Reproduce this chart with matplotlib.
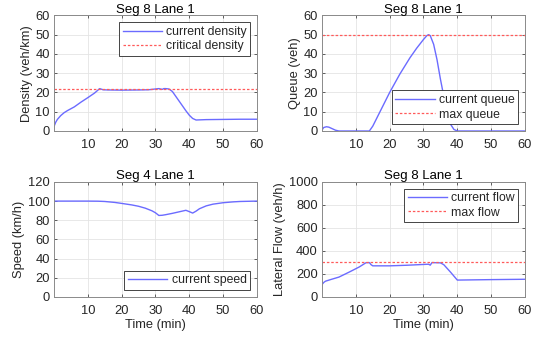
import matplotlib.pyplot as plt

plt.rcParams['font.family'] = ['Liberation Sans', 'DejaVu Sans']
plt.rcParams['font.size'] = 9.3

# values
density_t = [0, 0.5, 1, 2, 3, 4, 6, 8, 10, 12, 13.5, 14.5, 16, 20, 25, 28, 30, 31, 32, 32.5, 33, 34, 35,
             36, 37, 38, 39, 40, 41, 42, 45, 50, 55, 60]
density = [2.3, 4.5, 6.0, 8.0, 9.5, 10.6, 12.5, 15.0, 17.3, 19.7, 22.0, 21.4, 21.3, 21.2, 21.3, 21.4, 21.8,
           22.0, 21.6, 22.0, 22.0, 21.8, 20.5, 18.0, 15.5, 13.0, 10.5, 8.2, 6.5, 5.7, 5.9, 6.0, 6.1, 6.1]
critical_density = 22

queue_t = [0, 0.5, 1.3, 2, 3, 4, 5, 14, 15, 16, 18, 20, 23, 26, 28, 30, 31, 31.5, 32, 33, 34, 35, 36,
           37, 38, 39, 40, 60]
queue = [0.5, 1.8, 2.2, 2.0, 1.2, 0.4, 0, 0, 2.5, 6.0, 13.0, 20.0, 29.5, 38.0, 43.0, 47.5, 49.5, 50.0,
         49.5, 45.0, 37.0, 27.0, 18.0, 9.5, 3.5, 0.8, 0, 0]
max_queue = 50

speed_t = [0, 5, 10, 13, 15, 18, 20, 23, 25, 27, 29, 30, 31, 32, 33, 35, 37, 39, 40, 41, 42, 43, 45, 47,
           50, 53, 55, 60]
speed = [100, 100, 100, 99.9, 99.6, 98.6, 97.6, 96.0, 94.6, 92.6, 89.8, 87.8, 85.0, 85.2, 85.8, 87.2, 88.8,
         90.4, 89.0, 87.5, 89.5, 92.0, 95.0, 96.8, 98.3, 99.2, 99.6, 100]

flow_t = [0, 0.5, 1, 2.5, 5, 8, 11, 13, 14, 14.5, 15, 20, 25, 30, 31.5, 32, 32.5, 35, 36, 38, 40, 45,
          50, 60]
flow = [107, 125, 136, 150, 172, 215, 260, 297, 298, 280, 270, 270, 275, 282, 284, 276, 298, 296, 280,
        215, 146, 148, 150, 153]
max_flow = 300

line_blue = '#6b6bff'
line_red = '#ff5a5a'
txt = '#262626'


def style(ax, ylabel, yticks, title, xlabel=None):
    ax.set_xlim(0, 60)
    ax.set_xticks([10, 20, 30, 40, 50, 60])
    ax.set_ylim(yticks[0], yticks[-1])
    ax.set_yticks(yticks)
    ax.set_title(title, color='black', fontsize=9.5, pad=2)
    ax.set_ylabel(ylabel, color=txt, labelpad=2)
    if xlabel:
        ax.set_xlabel(xlabel, color=txt, labelpad=1)
    ax.grid(True, color='#e4e4e4', linewidth=0.6)
    ax.set_axisbelow(True)
    ax.tick_params(direction='in', length=2.5, width=0.5, colors=txt, labelsize=9.3, pad=3,
                   top=True, right=True, labeltop=False, labelright=False)
    ax.tick_params(axis='x', pad=6)
    for s in ax.spines.values():
        s.set_color('#8a8a8a')
        s.set_linewidth(0.7)


def legend(ax, loc):
    leg = ax.legend(loc=loc, fancybox=False, framealpha=1, edgecolor='#262626', fontsize=8.8,
                    borderpad=0.3, labelspacing=0.2, handlelength=3.2, handletextpad=0.35,
                    borderaxespad=0.55)
    leg.get_frame().set_linewidth(0.6)
    for t in leg.get_texts():
        t.set_color(txt)


fig = plt.figure(figsize=(5.47, 3.42), dpi=100)
w, h = 0.371, 0.338
ax1 = fig.add_axes([0.0987, 0.617, w, h])
ax2 = fig.add_axes([0.5887, 0.617, w, h])
ax3 = fig.add_axes([0.0987, 0.132, w, 0.336])
ax4 = fig.add_axes([0.5887, 0.132, w, 0.336])

ax1.plot(density_t, density, color=line_blue, lw=1.0, label='current density')
ax1.axhline(critical_density, color=line_red, lw=0.9, ls=(0, (2, 1.5)), label='critical density')
style(ax1, 'Density (veh/km)', [0, 10, 20, 30, 40, 50, 60], 'Seg 8 Lane 1')
legend(ax1, 'upper right')

ax2.plot(queue_t, queue, color=line_blue, lw=1.0, label='current queue')
ax2.axhline(max_queue, color=line_red, lw=0.9, ls=(0, (2, 1.5)), label='max queue')
style(ax2, 'Queue (veh)', [0, 10, 20, 30, 40, 50, 60], 'Seg 8 Lane 1')
legend(ax2, 'lower right')

ax3.plot(speed_t, speed, color=line_blue, lw=1.0, label='current speed')
style(ax3, 'Speed (km/h)', [0, 20, 40, 60, 80, 100, 120], 'Seg 4 Lane 1', 'Time (min)')
legend(ax3, 'lower right')

ax4.plot(flow_t, flow, color=line_blue, lw=1.0, label='current flow')
ax4.axhline(max_flow, color=line_red, lw=0.9, ls=(0, (2, 1.5)), label='max flow')
style(ax4, 'Lateral Flow (veh/h)', [0, 200, 400, 600, 800, 1000], 'Seg 8 Lane 1', 'Time (min)')
legend(ax4, 'upper right')

fig.savefig('out.png', dpi=100)
